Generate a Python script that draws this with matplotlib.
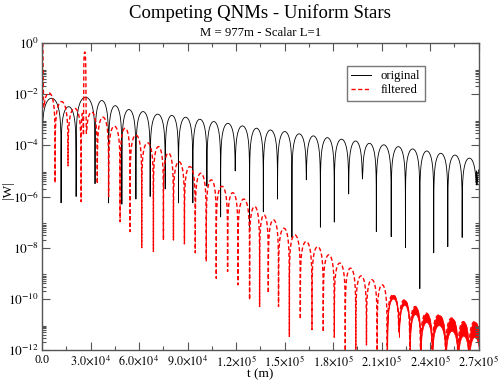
import numpy as np
import matplotlib
matplotlib.use("Agg")
import matplotlib.pyplot as plt
from matplotlib.ticker import FixedLocator, FixedFormatter, NullFormatter
from matplotlib.lines import Line2D

# ---------------- data ----------------
# time in units of 1e3 m ; amplitudes as log10(|W|)
# "original" signal: dip times, depth of each dip, peak of each lobe between dips
orig_dip_t = [0.0, 11.8, 21.1, 32.8, 41.2, 49.4, 58.1, 66.9, 76.2, 84.4, 93.3,
              102.0, 110.5, 119.5, 128.4, 136.9, 145.7, 154.6, 163.5, 172.2, 180.8,
              189.7, 198.2, 206.8, 216.0, 224.8, 233.7, 242.3, 251.0, 259.9, 268.8, 277.6]
orig_dip_log = [-3.0, -6.25, -6.0, -5.5, -6.25, -6.3, -6.1, -6.0, -5.7, -6.25, -6.25,
                -5.6, -6.8, -5.0, -7.2, -6.6, -6.1, -7.6, -5.35, -7.2, -7.0,
                -5.9, -5.3, -7.37, -7.57, -8.0, -9.6, -8.2, -7.96, -7.6, -5.0, -6.0]
orig_peak_log = [-2.16, -2.49, -2.12, -2.25, -2.45, -2.6, -2.68, -2.78, -2.83, -2.9,
                 -2.98, -3.07, -3.14, -3.24, -3.33, -3.40, -3.46, -3.55, -3.63, -3.70,
                 -3.76, -3.83, -3.92, -3.98, -4.05, -4.14, -4.22, -4.31, -4.38, -4.5, -4.6]

# "filtered" signal
filt_dip_t = [0.5, 8.1, 16.1, 24.2, 25.7, 27.2, 34.2, 41.2, 48.3, 54.5,
              61.7, 68.9, 75.1, 81.3, 88.1, 94.8, 101.6, 107.8, 114.8, 121.2,
              128.4, 134.6, 140.0, 146.3, 153.0, 159.8, 167.0, 174.0, 180.8, 187.6,
              194.1, 200.7, 207.3, 213.5, 220.7, 227.5, 234.1, 241.3, 249.6, 257.2,
              264.0, 271.0]
filt_dip_log = [0.0, -5.47, -4.8, -6.2, -2.8, -2.6, -5.5, -6.0, -6.98, -7.37,
                -8.0, -8.15, -7.7, -7.7, -7.85, -8.2, -8.54, -9.2, -8.93, -9.45,
                -10.04, -10.3, -9.78, -10.3, -11.47, -10.8, -11.2, -11.3, -11.5, -12.3,
                -12.3, -11.8, -12.3, -12.3, -11.2, -12.3, -12.3, -12.3, -12.3, -12.3,
                -12.3, -12.3]
filt_peak_log = [-1.95, -2.29, -2.55, -2.75, -0.35, -2.7, -2.9, -3.25, -3.33, -3.6,
                 -3.9, -4.05, -4.3, -4.64, -4.83, -5.09, -5.35, -5.6, -5.85, -6.1,
                 -6.39, -6.72, -6.91, -7.24, -7.5, -7.76, -7.96, -8.28, -8.6, -8.8,
                 -9.1, -9.25, -9.45, -9.84, -10.04, -10.3, -10.56, -10.63, -10.75, -10.89,
                 -10.89]
# thickness (decades) of the noisy band at the tail of the filtered signal, per lobe
filt_band_log = [0.0] * 33 + [0.15, 0.2, 0.3, 0.35, 0.4, 0.5, 0.55, 0.6]

xtick_values = [0, 30e3, 60e3, 90e3, 120e3, 150e3, 180e3, 210e3, 240e3, 270e3]
xtick_labels = ["0.0", r"$3.0{\times}10^{4}$", r"$6.0{\times}10^{4}$", r"$9.0{\times}10^{4}$",
                r"$1.2{\times}10^{5}$", r"$1.5{\times}10^{5}$", r"$1.8{\times}10^{5}$",
                r"$2.1{\times}10^{5}$", r"$2.4{\times}10^{5}$", r"$2.7{\times}10^{5}$"]
ytick_exponents = [0, -2, -4, -6, -8, -10, -12]

series_names = ["original", "filtered"]


def build(dip_t, dip_log, peak_log, n=90, band=None):
    ts, vs, lo = [], [], []
    u = np.linspace(0.0, 1.0, n)
    s = (1.0 - np.cos(np.pi * u)) / 2.0
    for i in range(len(peak_log)):
        t0, t1 = dip_t[i] * 1e3, dip_t[i + 1] * 1e3
        P = 10.0 ** peak_log[i]
        f0 = 10.0 ** dip_log[i]
        f1 = 10.0 ** dip_log[i + 1]
        v = P * np.sin(np.pi * s) + f0 * np.exp(-s / 0.01) + f1 * np.exp(-(1 - s) / 0.01)
        t = t0 + s * (t1 - t0)
        if i > 0:
            t, v = t[1:], v[1:]
        ts.append(t)
        vs.append(v)
        if band is not None:
            lo.append(v * 10.0 ** (-band[i]))
    if band is not None:
        return np.concatenate(ts), np.concatenate(vs), np.concatenate(lo)
    return np.concatenate(ts), np.concatenate(vs)


plt.rcParams["font.family"] = ["Liberation Serif", "DejaVu Serif"]
plt.rcParams["mathtext.fontset"] = "stix"

fig = plt.figure(figsize=(4.98, 3.84), dpi=100)
ax = fig.add_axes([42 / 498, 1 - 350 / 384, 436.5 / 498, 307 / 384])

t_o, v_o = build(orig_dip_t, orig_dip_log, orig_peak_log)
t_f, v_f, lo_f = build(filt_dip_t, filt_dip_log, filt_peak_log, band=filt_band_log)

ax.plot(t_o, v_o, color="black", lw=0.6)
ax.plot(t_f, v_f, color="#ff0000", lw=1.0, linestyle=(0, (3.0, 1.8)))
mask = lo_f < v_f
ax.fill_between(t_f, lo_f, v_f, where=mask, color="#ff0000", lw=0.5)

ax.set_yscale("log")
ax.set_xlim(0, 2.7e5)
ax.set_ylim(1e-12, 1.0)

# ticks
ax.xaxis.set_major_locator(FixedLocator(xtick_values))
ax.xaxis.set_major_formatter(FixedFormatter(xtick_labels))
ax.xaxis.set_minor_locator(FixedLocator(np.arange(0, 2.71e5, 1.5e4)))
ax.yaxis.set_major_locator(FixedLocator([10.0 ** e for e in ytick_exponents]))
ax.yaxis.set_major_formatter(FixedFormatter([r"$10^{%d}$" % e for e in ytick_exponents]))
minors = [k * 10.0 ** e for e in ytick_exponents[1:] for k in range(2, 10)]
ax.yaxis.set_minor_locator(FixedLocator(minors))
ax.yaxis.set_minor_formatter(NullFormatter())

edge = "#555555"
for sp in ax.spines.values():
    sp.set_color(edge)
    sp.set_linewidth(1.0)
ax.tick_params(which="both", direction="in", top=True, right=True, color=edge, width=0.8)
ax.tick_params(which="major", length=5.5, pad=3)
ax.tick_params(which="minor", length=3)
ax.tick_params(axis="x", labelsize=8.7, pad=3)
ax.tick_params(axis="y", labelsize=9.5, pad=2)

# texts
fig.text(260 / 498, 1 - 13 / 384, "Competing QNMs - Uniform Stars", ha="center", va="center", fontsize=13.5)
fig.text(261 / 498, 1 - 33 / 384, "M = 977m - Scalar L=1", ha="center", va="center", fontsize=9.2)
fig.text(8 / 498, 1 - 190 / 384, "|W|", rotation=90, ha="center", va="center", fontsize=9.5)
fig.text(260 / 498, 1 - 374 / 384, "t (m)", ha="center", va="center", fontsize=9.5)

handles = [Line2D([], [], color="black", lw=0.7),
           Line2D([], [], color="#ff0000", lw=1.0, linestyle=(0, (3.0, 1.8)))]
leg = ax.legend(handles, series_names, loc="upper left", bbox_to_anchor=((347 - 42) / 436.5, 1 - (66 - 43) / 307),
                fontsize=9.2, frameon=True, fancybox=False, edgecolor="#777777", framealpha=1,
                handlelength=1.5, handletextpad=0.8, borderpad=0.35, labelspacing=0.15, borderaxespad=0)
leg.get_frame().set_linewidth(1.0)

fig.savefig("out.png", dpi=100)
